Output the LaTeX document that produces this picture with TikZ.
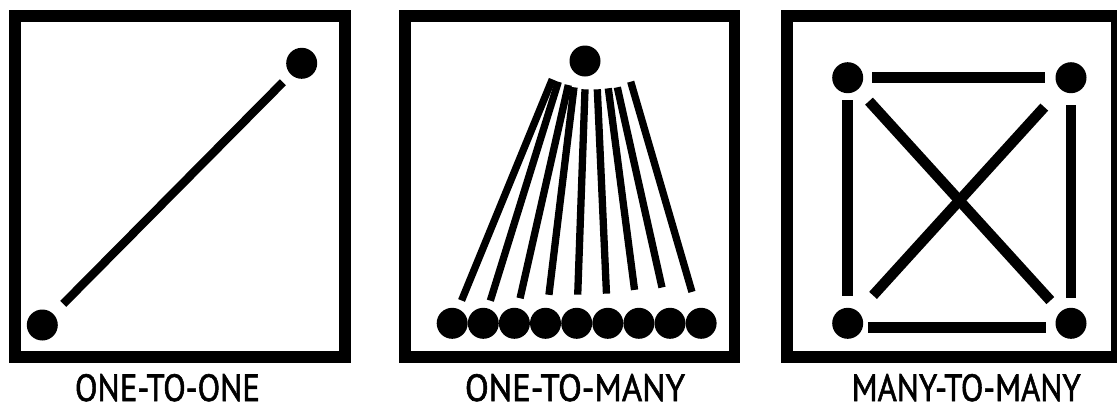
\documentclass[tikz,border=0pt]{standalone}
\usepackage{graphicx}
\usepackage{fontspec}
\newfontfamily\labelfont[FakeBold=1.6]{PT Sans}
\newcommand{\fitlabel}[3]{\resizebox{#1pt}{#2pt}{\labelfont\fontsize{40}{44}\selectfont #3}}
\begin{document}
\begin{tikzpicture}[x=1pt,y=-1pt,
  frame/.style={draw=black,line width=11.5pt},
  dot/.style={circle,fill=black,inner sep=0pt,minimum size=31pt},
  link/.style={draw=black,line width=#1,line cap=butt},
  link/.default=8pt,
  lbl/.style={anchor=base,inner sep=0pt}]
\useasboundingbox (0,0) rectangle (1117,405);
\clip (0,0) rectangle (1117,405);
% frames
\draw[frame] (15,16) rectangle (345,356.8);
\draw[frame] (405,16) rectangle (734.5,356.8);
\draw[frame] (787,16) rectangle (1116.8,356.8);
% one-to-one
\node[dot] (a1) at (42.3,325) {};
\node[dot] (a2) at (301.7,63.3) {};
\draw[link=8.5pt,shorten <=14pt,shorten >=11pt] (a1) -- (a2);
% one-to-many
\node[dot] (top) at (585,61) {};
\foreach \i/\x in {1/452.2,2/483.3,3/514.4,4/545.5,5/576.7,6/607.8,7/638.9,8/670.0,9/701.1}
  \node[dot] (b\i) at (\x,323.3) {};
\coordinate (t1) at (552.3,79.3);
\coordinate (t2) at (558.3,81.7);
\coordinate (t3) at (568.3,85);
\coordinate (t4) at (574,87.3);
\coordinate (t5) at (585,89.3);
\coordinate (t6) at (597.3,89.3);
\coordinate (t7) at (608.3,88.3);
\coordinate (t8) at (617.3,87.3);
\coordinate (t9) at (630.7,81.7);
\foreach \i/\s in {1/9,2/8,3/10,4/13,5/13,6/14,7/18,8/21,9/17}
  \draw[link=7.3pt,shorten <=\s pt] (b\i) -- (t\i);
% many-to-many
\node[dot] (tl) at (847.7,77.7) {};
\node[dot] (tr) at (1071,77.7) {};
\node[dot] (bl) at (847.7,323.3) {};
\node[dot] (br) at (1071,323.3) {};
\draw[link=10.5pt,shorten <=9pt,shorten >=10pt] (tl) -- (tr);
\draw[link=10.5pt,shorten <=4.5pt,shorten >=9pt] ([yshift=-4.4pt]bl.east) -- ([yshift=-4.4pt]br.west);
\draw[link=10.5pt,shorten <=7pt,shorten >=12pt] (tl) -- (bl);
\draw[link=10.5pt,shorten <=12pt,shorten >=10pt] (tr) -- (br);
\draw[link=10.5pt,shorten <=16pt,shorten >=15pt] (tl) -- (br);
\draw[link=10.5pt,shorten <=24pt,shorten >=22pt] (tr) -- (bl);
% labels
\node[lbl] (l1) at (167.5,401) {\fitlabel{185}{27}{ONE-TO-ONE}};
\node[lbl] (l2) at (575,401) {\fitlabel{220}{27}{ONE-TO-MANY}};
\node[lbl] (l3) at (966.2,401) {\fitlabel{229}{27}{MANY-TO-MANY}};
\end{tikzpicture}
\end{document}
